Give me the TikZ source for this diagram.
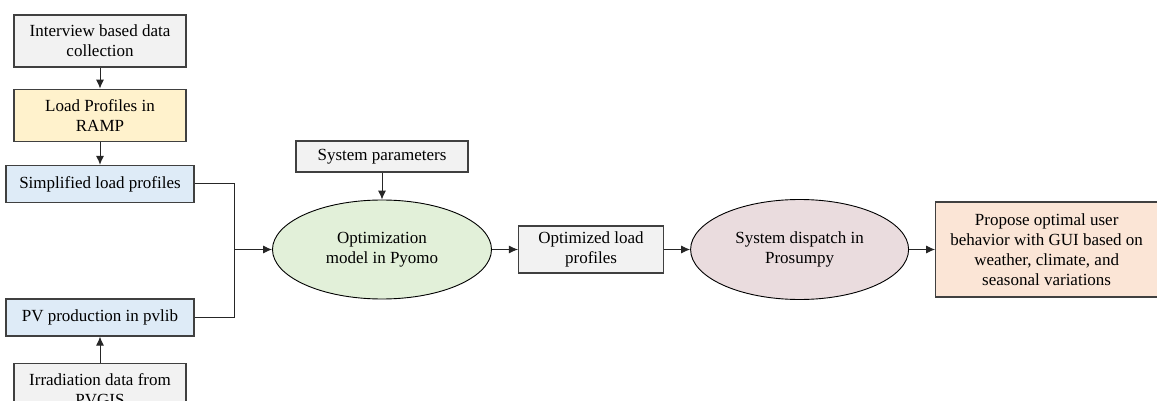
\documentclass[tikz,border=0pt]{standalone}
\usepackage{fontspec}
\setmainfont{Liberation Serif}
\usetikzlibrary{positioning}
\usetikzlibrary{shapes.geometric}
\usetikzlibrary{chains}
\usetikzlibrary{arrows.meta}

\definecolor{boxgray}{HTML}{F2F2F2}
\definecolor{boxyellow}{HTML}{FFF2CC}
\definecolor{boxblue}{HTML}{DEEBF7}
\definecolor{boxgreen}{HTML}{E2F0D9}
\definecolor{boxrose}{HTML}{EADCDE}
\definecolor{boxpeach}{HTML}{FBE5D6}
\definecolor{edgegray}{HTML}{404040}

\begin{document}
\begin{tikzpicture} [x=1pt, y=-1pt, font=\rmfamily\fontsize{17}{20}\selectfont,
  box/.style={draw=edgegray, line width=1.2pt, align=center, inner sep=0pt},
  oval/.style={draw, ellipse, line width=0.9pt, align=center, inner sep=0pt},
  link/.style={-{Latex[length=9pt,width=8pt]}, line width=0.9pt, draw=black!85}]

\useasboundingbox (0,0) rectangle (1157,401);

% left column
\node [box, fill=boxgray, minimum width=172pt, minimum height=52pt] (interview) at (100,41)
    {Interview based data\\collection};
\node [box, fill=boxyellow, minimum width=172pt, minimum height=52pt, below=21pt of interview] (ramp)
    {Load Profiles in\\RAMP};
\node [box, fill=boxblue, minimum width=188pt, minimum height=37pt, below=23pt of ramp] (simple)
    {Simplified load profiles};
\node [box, fill=boxblue, minimum width=188pt, minimum height=37pt] (pv) at (100,317.5)
    {PV production in pvlib};
\node [box, fill=boxgray, minimum width=172pt, minimum height=52pt, below=26pt of pv] (irr)
    {Irradiation data from\\PVGIS};

\draw [link] (interview) -- (ramp);
\draw [link] (ramp) -- (simple);
\draw [link] (irr) -- (pv);

% main row
\begin{scope} [start chain=going right, node distance=26pt]
\node [on chain, oval, fill=boxgreen, minimum width=219pt, minimum height=99pt] (opt) at (382,249.5)
    {Optimization\\model in Pyomo};
\node [on chain, join=by link, box, fill=boxgray, minimum width=145pt, minimum height=47pt] (optload)
    {Optimized load\\profiles};
\node [on chain, join=by link, oval, fill=boxrose, minimum width=218pt, minimum height=100pt] (dispatch)
    {System dispatch in\\Prosumpy};
\node [on chain, join=by link, box, fill=boxpeach, minimum width=222pt, minimum height=95pt] (gui)
    {Propose optimal user\\behavior with GUI based on\\weather, climate, and\\seasonal variations};
\end{scope}

\node [box, fill=boxgray, minimum width=172pt, minimum height=31pt] (params) at (382,156.5)
    {System parameters};
\draw [link] (params) -- (opt);

\coordinate (merge) at (234,249.5);
\draw [line width=0.9pt, draw=black!85] (simple.east) -| (merge);
\draw [line width=0.9pt, draw=black!85] (pv.east) -| (merge);
\draw [link] (merge) -- (opt.west);

\end{tikzpicture}
\end{document}
